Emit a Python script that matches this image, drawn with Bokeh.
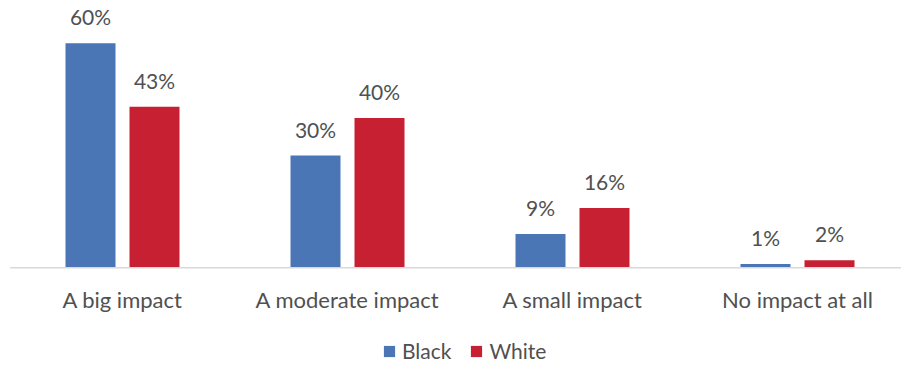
from bokeh.plotting import figure
from bokeh.models import ColumnDataSource, Range1d, Legend, LegendItem
from bokeh.core.properties import value
from bokeh.embed import file_html
from bokeh.resources import INLINE

# Survey answers and shares (%) by group
categories = ["A big impact", "A moderate impact", "A small impact", "No impact at all"]
black = [60, 30, 9, 1]
white = [43, 40, 16, 2]
series_names = ["Black", "White"]
series_colors = ["#4a76b6", "#c62032"]

FONT = "Lato"
TEXT_COLOR = "#505050"

W, H = 901, 365
base_px = 267.3          # pixel row of the zero line
px_per_unit = 3.743      # vertical pixels per percentage point
group_px = 225.0         # pixels between category centres
first_px = 122.0         # pixel column of the first category centre

x0 = -first_px / group_px
x1 = (W - first_px) / group_px
y1 = base_px / px_per_unit
y0 = -(H - base_px) / px_per_unit

p = figure(width=W, height=H, output_backend="svg", toolbar_location=None,
           x_range=Range1d(x0, x1), y_range=Range1d(y0, y1),
           min_border=0, outline_line_color=None)
p.axis.visible = False
p.grid.visible = False
p.background_fill_color = "white"
p.border_fill_color = "white"

xs = list(range(len(categories)))
off = 32.0 / group_px
bw = 50.0 / group_px
label_gap = 26.5 / px_per_unit   # space between bar top and its value label

src_b = ColumnDataSource(dict(x=[i - off for i in xs], top=black,
                              lbl=[f"{v}%" for v in black],
                              ly=[v + label_gap for v in black]))
src_w = ColumnDataSource(dict(x=[i + off for i in xs], top=white,
                              lbl=[f"{v}%" for v in white],
                              ly=[v + label_gap for v in white]))

r_b = p.vbar(x="x", top="top", bottom=0, width=bw, source=src_b,
             fill_color=series_colors[0], line_color=None)
r_w = p.vbar(x="x", top="top", bottom=0, width=bw, source=src_w,
             fill_color=series_colors[1], line_color=None)

# zero line
p.segment(x0=[-0.5], y0=[0], x1=[x1], y1=[0], line_color="#d9d9d9", line_width=1.5)

# value labels
for src in (src_b, src_w):
    p.text(x="x", y="ly", text="lbl", source=src, text_align="center",
           text_baseline="alphabetic", text_font=value(FONT),
           text_font_size="21px", text_color=TEXT_COLOR)

# category labels
cat_src = ColumnDataSource(dict(x=xs, y=[-(298.5 - base_px) / px_per_unit] * len(xs),
                                t=categories))
p.text(x="x", y="y", text="t", source=cat_src, text_align="center",
       text_baseline="alphabetic", text_font=value(FONT),
       text_font_size="22px", text_color=TEXT_COLOR)

legend = Legend(items=[LegendItem(label=series_names[0], renderers=[r_b]),
                       LegendItem(label=series_names[1], renderers=[r_w])],
                orientation="horizontal", location=(382, 2),
                padding=0, margin=0, spacing=18, label_standoff=6,
                glyph_width=14, glyph_height=14, label_height=14,
                label_text_font=FONT, label_text_font_size="21px",
                label_text_color=TEXT_COLOR,
                border_line_color=None, background_fill_alpha=0)
p.add_layout(legend, "center")

open("out.html", "w").write(file_html(p, INLINE))
